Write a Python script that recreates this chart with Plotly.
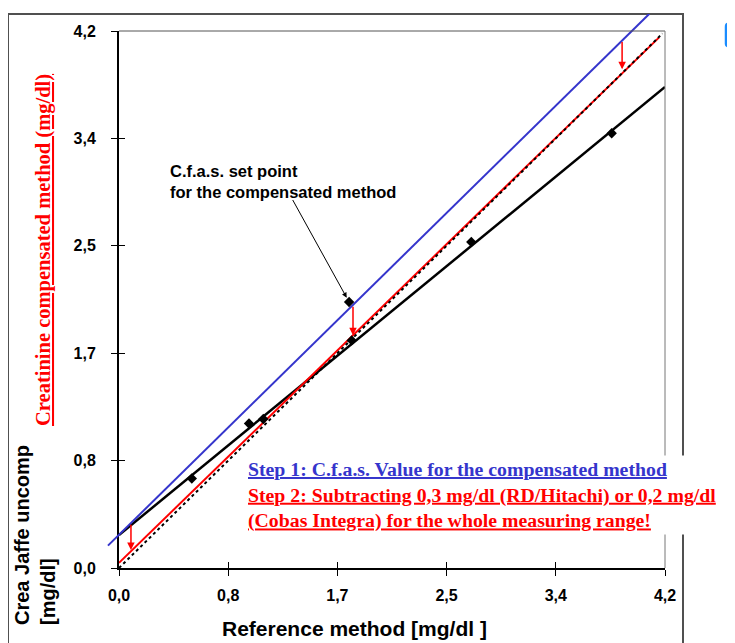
import plotly.graph_objects as go

W, H = 735, 643

# ---------------- data ----------------
tick_vals = [0.0, 0.84, 1.68, 2.52, 3.36, 4.2]
tick_text = ["0,0", "0,8", "1,7", "2,5", "3,4", "4,2"]

meas_x = [0.56, 1.00, 1.11, 1.79, 2.71, 3.79]
meas_y = [0.70, 1.13, 1.165, 1.78, 2.55, 3.40]

setpoint_x = [1.77]
setpoint_y = [2.08]

uncomp_x = [0.0, 4.2]          # black regression (Crea Jaffe uncomp)
uncomp_y = [0.258, 3.762]

cfas_x = [-0.085, 4.08]        # blue C.f.a.s. line
cfas_y = [0.175, 4.335]

comp_x = [0.0, 4.155]          # red compensated line
comp_y = [0.04, 4.15]

ident_x = [0.0, 4.18]          # dotted identity line
ident_y = [0.0, 4.18]

shift_x = [0.092, 1.80, 3.87]  # red subtraction arrows
shift_from = [0.35, 2.055, 4.125]
shift_to = [0.14, 1.82, 3.90]

# ---------------- layout geometry (page pixels) ----------------
PX_L, PX_R, PX_T, PX_B = 119, 665, 31, 568
XMAX = 4.2
kx = (PX_R - PX_L) / XMAX
ky = (PX_B - PX_T) / XMAX
OFF = 8  # page body margin in front of the figure


def fx(px):
    return (px - OFF) / W


def fy(py):
    return 1 - (py - OFF) / H


EXT_L, EXT_R, EXT_T, EXT_B = 95, 700, 14, 600

SANS = "Liberation Sans"
SERIF = "Liberation Serif"
RED = "#ff0000"
BLUE = "#3535cc"

fig = go.Figure()

fig.add_trace(go.Scatter(x=ident_x, y=ident_y, mode="lines",
                         line=dict(color="black", width=2, dash="dot"),
                         xaxis="x3", yaxis="y3", showlegend=False, hoverinfo="skip"))
fig.add_trace(go.Scatter(x=uncomp_x, y=uncomp_y, mode="lines",
                         line=dict(color="black", width=2.5), showlegend=False))
fig.add_trace(go.Scatter(x=comp_x, y=comp_y, mode="lines",
                         line=dict(color=RED, width=2), showlegend=False))
fig.add_trace(go.Scatter(x=meas_x, y=meas_y, mode="markers",
                         marker=dict(symbol="diamond", size=8, color="black"),
                         showlegend=False))
fig.add_trace(go.Scatter(x=cfas_x, y=cfas_y, mode="lines",
                         line=dict(color=BLUE, width=2),
                         xaxis="x2", yaxis="y2", showlegend=False))
fig.add_trace(go.Scatter(x=setpoint_x, y=setpoint_y, mode="markers",
                         marker=dict(symbol="diamond", size=8, color="black"),
                         xaxis="x2", yaxis="y2", showlegend=False))

common_tick = dict(tickmode="array", tickvals=tick_vals, ticktext=tick_text,
                   showgrid=False, zeroline=False, range=[0, XMAX], automargin=False)

fig.update_layout(
    template="none",
    width=W, height=H,
    margin=dict(l=0, r=0, t=0, b=0, pad=0, autoexpand=False),
    paper_bgcolor="white", plot_bgcolor="rgba(0,0,0,0)",
    xaxis=dict(domain=[fx(PX_L), fx(PX_R)], anchor="y",
               ticks="outside", ticklen=6, tickwidth=1, tickcolor="black",
               showline=True, linecolor="black", linewidth=2,
               tickfont=dict(family=SANS, size=16, color="black", weight="bold"),
               ticklabelstandoff=6, **common_tick),
    yaxis=dict(domain=[fy(PX_B), fy(PX_T)], anchor="x",
               ticks="outside", ticklen=6, tickwidth=1, tickcolor="black",
               showline=True, linecolor="black", linewidth=2,
               tickfont=dict(family=SANS, size=16, color="black", weight="bold"),
               ticklabelstandoff=12, **common_tick),
    xaxis3=dict(overlaying="x", anchor="y", ticks="inside", ticklen=6, tickwidth=1,
                tickcolor="black", showticklabels=False, showline=False, **common_tick),
    yaxis3=dict(overlaying="y", anchor="x", ticks="inside", ticklen=6, tickwidth=1,
                tickcolor="black", showticklabels=False, showline=False, **common_tick),
    xaxis2=dict(domain=[fx(EXT_L), fx(EXT_R)], anchor="y2",
                range=[(EXT_L - PX_L) / kx, (EXT_R - PX_L) / kx],
                visible=False, showgrid=False, zeroline=False, automargin=False),
    yaxis2=dict(domain=[fy(EXT_B), fy(EXT_T)], anchor="x2",
                range=[(PX_B - EXT_B) / ky, (PX_B - EXT_T) / ky],
                visible=False, showgrid=False, zeroline=False, automargin=False),
)

shapes = [
    # outer frame
    dict(type="rect", xref="paper", yref="paper", x0=fx(8), x1=fx(683), y0=fy(665), y1=fy(14),
         line=dict(color="#505050", width=2), layer="below"),
    # top and right border of the plot area
    dict(type="line", xref="paper", yref="paper", x0=fx(PX_L), x1=fx(PX_R), y0=fy(PX_T), y1=fy(PX_T),
         line=dict(color="#555555", width=1)),
    dict(type="line", xref="paper", yref="paper", x0=fx(PX_R), x1=fx(PX_R), y0=fy(PX_T), y1=fy(PX_B),
         line=dict(color="#777777", width=1)),
    # small icon at the top right
    dict(type="path", xref="paper", yref="paper",
         path=f"M {fx(742)},{fy(24)} L {fx(728)},{fy(24)} Q {fx(726)},{fy(24)} {fx(726)},{fy(27)} "
              f"L {fx(726)},{fy(44)} Q {fx(726)},{fy(46)} {fx(728)},{fy(46)} L {fx(742)},{fy(46)}",
         line=dict(color="#1a8cff", width=2.5)),
]
fig.update_layout(shapes=shapes)

ann = []
for xs, y0, y1 in zip(shift_x, shift_from, shift_to):
    ann.append(dict(x=xs, y=y1, ax=xs, ay=y0, xref="x", yref="y", axref="x", ayref="y",
                    text="", showarrow=True, arrowhead=2, arrowsize=1, arrowwidth=1.5,
                    arrowcolor=RED))

ann.append(dict(x=setpoint_x[0], y=setpoint_y[0], xref="x", yref="y",
                ax=1.33, ay=2.89, axref="x", ayref="y", text="", showarrow=True,
                arrowhead=2, arrowsize=1, arrowwidth=1, arrowcolor="black", standoff=5))

ann.append(dict(x=fx(168), y=fy(160), xref="paper", yref="paper", xanchor="left", yanchor="top",
                align="left", showarrow=False,
                text="C.f.a.s. set point<br>for the compensated method",
                font=dict(family=SANS, size=16.5, color="black", weight="bold")))

step_text = (f"<span style='color:{BLUE}'><u>Step 1: C.f.a.s. Value for the compensated method</u></span><br>"
             f"<span style='color:{RED}'><u>Step 2: Subtracting 0,3 mg/dl (RD/Hitachi) or 0,2 mg/dl</u></span><br>"
             f"<span style='color:{RED}'><u>(Cobas Integra) for the whole measuring range!</u></span>")
ann.append(dict(x=fx(245), y=fy(455), xref="paper", yref="paper", xanchor="left", yanchor="top",
                align="left", showarrow=False, text=step_text, bgcolor="white", borderpad=2,
                font=dict(family=SERIF, size=19.8, color=RED, weight="bold")))

ann.append(dict(x=fx(354), y=fy(628), xref="paper", yref="paper", xanchor="center", yanchor="middle",
                showarrow=False, text="Reference method [mg/dl ]",
                font=dict(family=SANS, size=21, color="black", weight="bold")))

ann.append(dict(x=fx(35), y=fy(535), xref="paper", yref="paper", xanchor="center", yanchor="middle",
                showarrow=False, textangle=-90, align="left",
                text="Crea Jaffe uncomp<br>[mg/dl]",
                font=dict(family=SANS, size=20, color="black", weight="bold")))

ann.append(dict(x=fx(43), y=fy(250), xref="paper", yref="paper", xanchor="center", yanchor="middle",
                showarrow=False, textangle=-90,
                text="<u>Creatinine compensated method (mg/dl)</u>",
                font=dict(family=SERIF, size=20.5, color=RED, weight="bold")))

fig.update_layout(annotations=ann)

fig.write_html("out.html")
